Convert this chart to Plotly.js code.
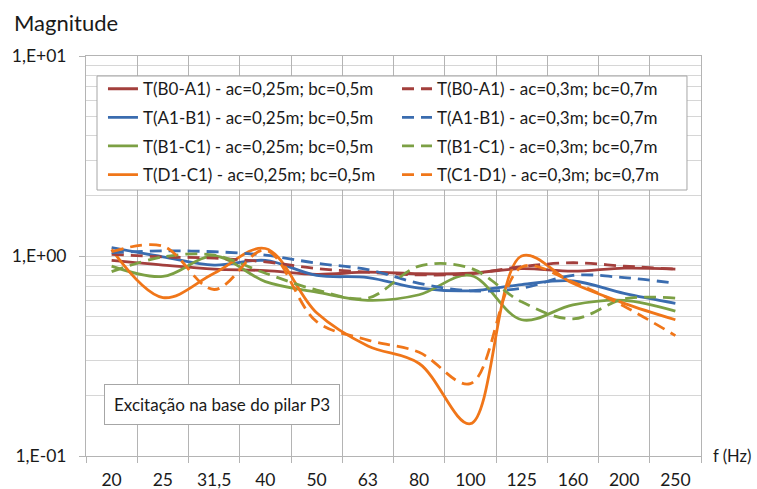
<!DOCTYPE html>
<html>
<head>
<meta charset="utf-8">
<script src="https://cdn.plot.ly/plotly-3.0.1.min.js"></script>
<style>html,body{margin:0;padding:0;background:#fff;}#chart{width:757px;height:489px;}</style>
</head>
<body>
<div id="chart"></div>
<script>
var freqLabels = ['20','25','31,5','40','50','63','80','100','125','160','200','250'];

var tB0A1_a = [0.95,0.90,0.86,0.845,0.81,0.83,0.815,0.82,0.865,0.84,0.87,0.86];
var tB0A1_b = [1.02,0.99,0.975,0.935,0.865,0.83,0.805,0.815,0.885,0.925,0.89,0.86];
var tA1B1_a = [1.10,0.99,0.90,0.95,0.80,0.78,0.69,0.67,0.72,0.75,0.65,0.58];
var tA1B1_b = [1.04,1.06,1.05,1.01,0.92,0.855,0.73,0.67,0.69,0.80,0.78,0.73];
var tB1C1_a = [0.89,0.79,1.0,0.745,0.66,0.60,0.64,0.80,0.48,0.57,0.60,0.53];
var tB1C1_b = [0.835,0.99,1.01,0.82,0.676,0.616,0.89,0.87,0.59,0.485,0.61,0.616];
var tD1C1_a = [1.08,0.62,0.82,1.09,0.52,0.355,0.29,0.145,1.0,0.73,0.58,0.48];
var tC1D1_b = [1.05,1.12,0.68,1.07,0.47,0.38,0.33,0.23,0.88,0.74,0.56,0.40];

var yTickVals = [0.1, 1, 10];
var yTickText = ['1,E-01', '1,E+00', '1,E+01'];
var yMinorVals = [0.2,0.3,0.4,0.5,0.6,0.7,0.8,0.9,2,3,4,5,6,7,8,9];

var seriesA = [
  {name: 'T(B0-A1) - ac=0,25m; bc=0,5m', y: tB0A1_a, color: '#A33F3C'},
  {name: 'T(A1-B1) - ac=0,25m; bc=0,5m', y: tA1B1_a, color: '#3A6CAF'},
  {name: 'T(B1-C1) - ac=0,25m; bc=0,5m', y: tB1C1_a, color: '#7CA044'},
  {name: 'T(D1-C1) - ac=0,25m; bc=0,5m', y: tD1C1_a, color: '#F07619'}
];
var seriesB = [
  {name: 'T(B0-A1) - ac=0,3m; bc=0,7m', y: tB0A1_b, color: '#A33F3C'},
  {name: 'T(A1-B1) - ac=0,3m; bc=0,7m', y: tA1B1_b, color: '#3A6CAF'},
  {name: 'T(B1-C1) - ac=0,3m; bc=0,7m', y: tB1C1_b, color: '#7CA044'},
  {name: 'T(C1-D1) - ac=0,3m; bc=0,7m', y: tC1D1_b, color: '#F07619'}
];

var traces = [];
seriesA.forEach(function(s, i) {
  traces.push({type: 'scatter', mode: 'lines', x: freqLabels, y: s.y, name: s.name,
    line: {color: s.color, width: 2.8, shape: 'spline', smoothing: 1},
    legend: 'legend', legendgroup: 'a' + i, hoverinfo: 'skip'});
});
seriesB.forEach(function(s, i) {
  traces.push({type: 'scatter', mode: 'lines', x: freqLabels, y: s.y, name: s.name,
    line: {color: s.color, width: 2.8, shape: 'spline', smoothing: 1, dash: '12px,7px'},
    legend: 'legend2', legendgroup: 'b' + i, hoverinfo: 'skip'});
});

var fontFam = 'Lato, "Open Sans", sans-serif';
var txtCol = '#1a1a1a';
var gridV = '#b4b4b4';
var gridH = '#d6d6d6';

var layout = {
  width: 757, height: 489,
  margin: {l: 86, r: 56, t: 56, b: 33},
  paper_bgcolor: '#ffffff', plot_bgcolor: '#ffffff',
  font: {family: fontFam, size: 17, color: txtCol},
  showlegend: true,
  xaxis: {
    type: 'category', categoryorder: 'array', categoryarray: freqLabels,
    range: [-0.5, 11.5], autorange: false,
    tickson: 'boundaries', showgrid: true, gridcolor: gridV, gridwidth: 1,
    ticks: 'outside', ticklen: 6, tickcolor: gridV,
    showline: true, linecolor: gridV, linewidth: 1, mirror: true,
    tickfont: {family: fontFam, size: 17.5, color: txtCol},
    ticklabelstandoff: 8,
    fixedrange: true, zeroline: false
  },
  yaxis: {
    type: 'log', range: [-1, 1], autorange: false,
    tickmode: 'array', tickvals: yTickVals, ticktext: yTickText,
    showgrid: true, gridcolor: gridH, gridwidth: 1,
    ticks: 'outside', ticklen: 6, tickcolor: gridV,
    showline: true, linecolor: gridV, linewidth: 1, mirror: true,
    minor: {tickmode: 'array', tickvals: yMinorVals, showgrid: true, gridcolor: gridH, gridwidth: 1, ticks: ''},
    tickfont: {family: fontFam, size: 17.5, color: txtCol},
    ticklabelstandoff: 9,
    fixedrange: true, zeroline: false
  },
  legend: {
    x: 0.0276, xanchor: 'left', y: 0.962, yanchor: 'top',
    bgcolor: 'rgba(0,0,0,0)', borderwidth: 0,
    traceorder: 'grouped', tracegroupgap: 3.5,
    font: {family: fontFam, size: 17, color: txtCol}
  },
  legend2: {
    x: 0.5057, xanchor: 'left', y: 0.962, yanchor: 'top',
    bgcolor: 'rgba(0,0,0,0)', borderwidth: 0,
    traceorder: 'grouped', tracegroupgap: 3.5,
    font: {family: fontFam, size: 17, color: txtCol}
  },
  shapes: [
    {type: 'rect', xref: 'paper', yref: 'paper', layer: 'above',
     x0: 0.0179, x1: 0.9772, y0: 0.665, y1: 0.95,
     fillcolor: '#ffffff', line: {color: '#a6a6a6', width: 1}}
  ],
  annotations: [
    {text: 'Magnitude', xref: 'paper', yref: 'paper', x: -0.121, y: 1.083,
     xanchor: 'left', yanchor: 'middle', showarrow: false,
     font: {family: fontFam, size: 22, color: txtCol}},
    {text: 'f (Hz)', xref: 'paper', yref: 'paper', x: 1.085, y: 0,
     xanchor: 'right', yanchor: 'middle', showarrow: false,
     font: {family: fontFam, size: 16.5, color: txtCol}},
    {text: 'Excitação na base do pilar P3', xref: 'paper', yref: 'paper',
     x: 0.0293, y: 0.078, xanchor: 'left', yanchor: 'bottom', showarrow: false,
     bgcolor: '#ffffff', bordercolor: '#a6a6a6', borderwidth: 1, borderpad: 9,
     font: {family: fontFam, size: 17, color: txtCol}}
  ]
};

Plotly.newPlot('chart', traces, layout, {staticPlot: true, displayModeBar: false});
</script>
</body>
</html>
